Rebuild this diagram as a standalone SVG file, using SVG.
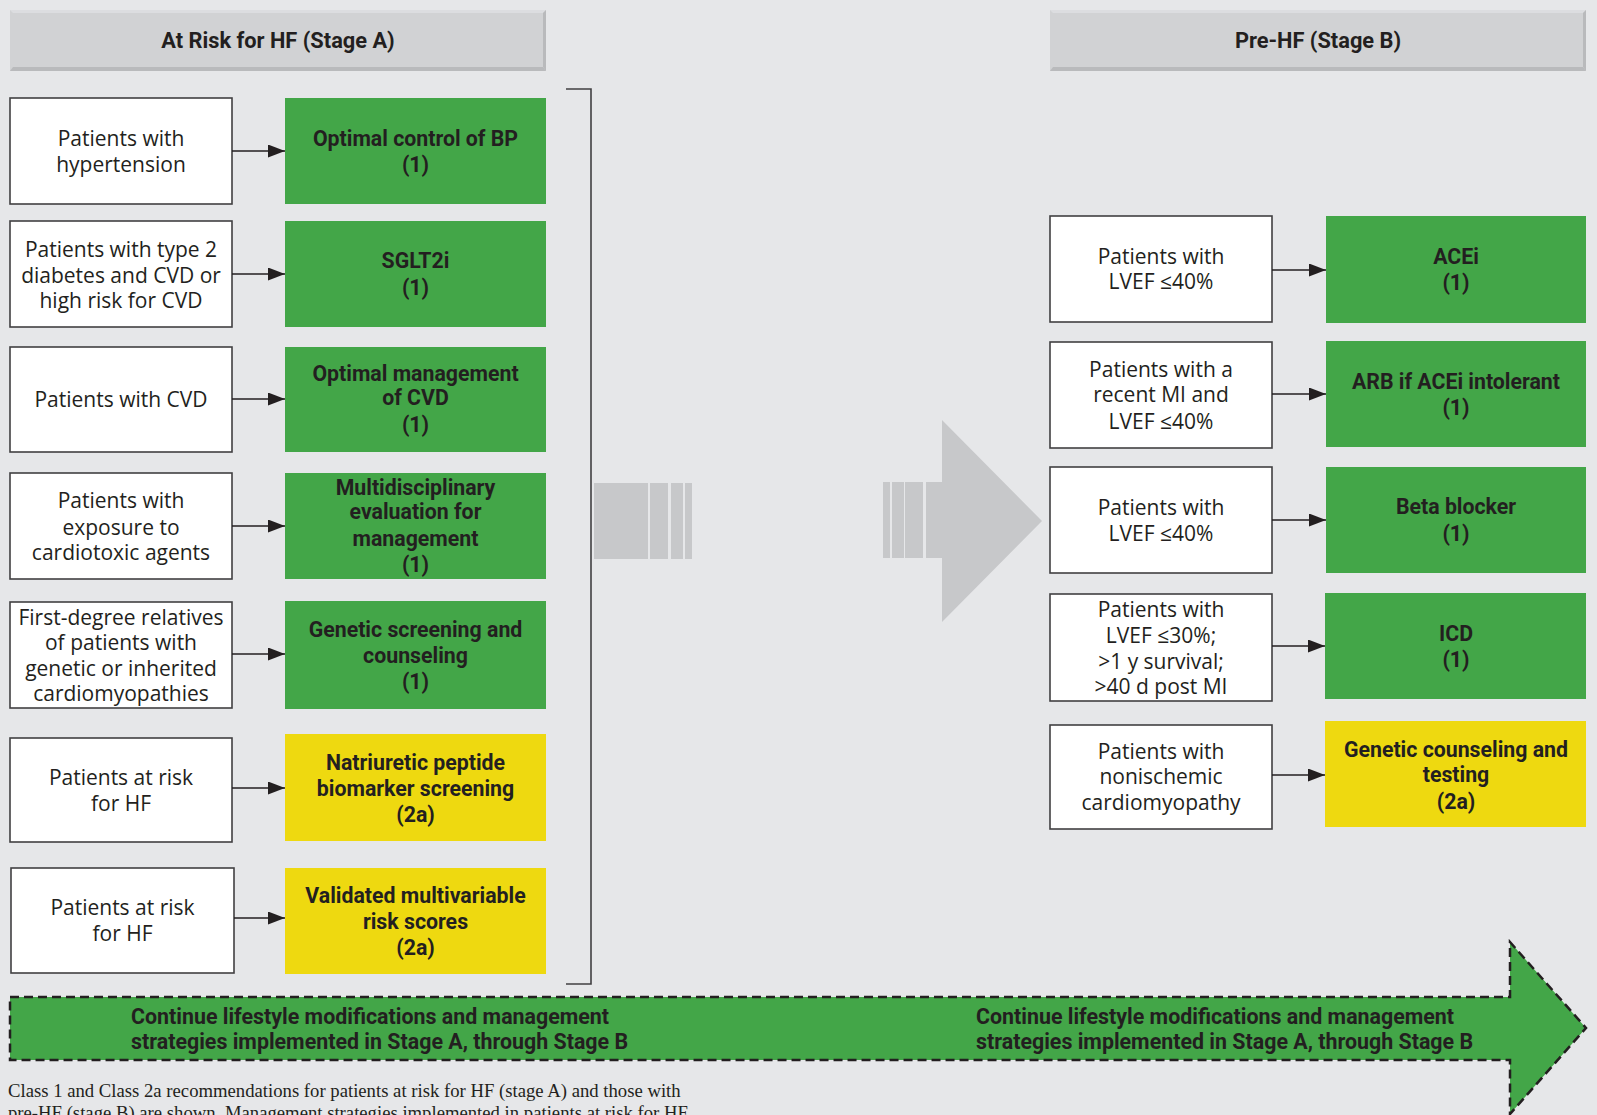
<svg xmlns="http://www.w3.org/2000/svg" width="1597" height="1115" viewBox="0 0 1597 1115">
<defs>
<style>
.bg{fill:#e6e7e9}
.wbox{fill:#ffffff;stroke:#414042;stroke-width:1.6}
.gbox{fill:#43a648}
.ybox{fill:#eed910}
.hdr{fill:#d1d2d4}
.hdrb{fill:#b9babc}
.hdrl{fill:#dcdde0}
.reg{font-family:"Open Sans","Liberation Sans",sans-serif;font-size:21px;fill:#231f20;text-anchor:middle}
.bold{font-family:Roboto,"Liberation Sans",sans-serif;font-weight:bold;font-size:21.3px;fill:#231f20;text-anchor:middle}
.htxt{font-size:21.8px}
.band{font-family:Roboto,"Liberation Sans",sans-serif;font-weight:bold;font-size:21.4px;fill:#231f20}
.cap{font-family:"Liberation Serif",serif;font-size:18.7px;fill:#231f20}
.conn{stroke:#231f20;stroke-width:1.6;fill:none;marker-end:url(#ah)}
.gray{fill:#c7c8ca}
</style>
<marker id="ah" markerUnits="userSpaceOnUse" markerWidth="18" markerHeight="13" refX="17" refY="6.5" orient="auto">
<path d="M0,0 L17,6.5 L0,13 Z" fill="#231f20"/>
</marker>
</defs>
<rect class="bg" x="0" y="0" width="1597" height="1115"/>

<g id="header-a">
<rect class="hdr" x="10" y="10" width="536" height="61"/>
<polygon class="hdrl" points="10,10 546,10 543,13 13,13"/>
<polygon class="hdrb" points="10,71 546,71 543,67 13,67"/>
<polygon class="hdrb" points="546,10 546,71 543,67 543,13"/>
<text class="bold htxt" x="278" y="48">At Risk for HF (Stage A)</text>
</g>
<g id="header-b">
<rect class="hdr" x="1050" y="10" width="536" height="61"/>
<polygon class="hdrl" points="1050,10 1586,10 1583,13 1053,13"/>
<polygon class="hdrb" points="1050,71 1586,71 1583,67 1053,67"/>
<polygon class="hdrb" points="1586,10 1586,71 1583,67 1583,13"/>
<text class="bold htxt" x="1318" y="48">Pre-HF (Stage B)</text>
</g>

<!-- Stage A left nodes -->
<g id="a1-patients"><rect class="wbox" x="10" y="98" width="222" height="106"/>
<text class="reg" x="121" y="146">Patients with</text><text class="reg" x="121" y="172">hypertension</text></g>
<g id="a1-action"><rect class="gbox" x="285" y="98" width="261" height="106"/>
<text class="bold" x="415.5" y="146">Optimal control of BP</text><text class="bold" x="415.5" y="172">(1)</text></g>

<g id="a2-patients"><rect class="wbox" x="10" y="221" width="222" height="106"/>
<text class="reg" x="121" y="257">Patients with type 2</text><text class="reg" x="121" y="283">diabetes and CVD or</text><text class="reg" x="121" y="308">high risk for CVD</text></g>
<g id="a2-action"><rect class="gbox" x="285" y="221" width="261" height="106"/>
<text class="bold" x="415.5" y="268">SGLT2i</text><text class="bold" x="415.5" y="295">(1)</text></g>

<g id="a3-patients"><rect class="wbox" x="10" y="347" width="222" height="105"/>
<text class="reg" x="121" y="407">Patients with CVD</text></g>
<g id="a3-action"><rect class="gbox" x="285" y="347" width="261" height="105"/>
<text class="bold" x="415.5" y="381">Optimal management</text><text class="bold" x="415.5" y="405">of CVD</text><text class="bold" x="415.5" y="432">(1)</text></g>

<g id="a4-patients"><rect class="wbox" x="10" y="473" width="222" height="106"/>
<text class="reg" x="121" y="508">Patients with</text><text class="reg" x="121" y="535">exposure to</text><text class="reg" x="121" y="560">cardiotoxic agents</text></g>
<g id="a4-action"><rect class="gbox" x="285" y="473" width="261" height="106"/>
<text class="bold" x="415.5" y="495">Multidisciplinary</text><text class="bold" x="415.5" y="519">evaluation for</text><text class="bold" x="415.5" y="546">management</text><text class="bold" x="415.5" y="572">(1)</text></g>

<g id="a5-patients"><rect class="wbox" x="10" y="602" width="222" height="106"/>
<text class="reg" x="121" y="625">First-degree relatives</text><text class="reg" x="121" y="650">of patients with</text><text class="reg" x="121" y="676">genetic or inherited</text><text class="reg" x="121" y="701">cardiomyopathies</text></g>
<g id="a5-action"><rect class="gbox" x="285" y="601" width="261" height="108"/>
<text class="bold" x="415.5" y="637">Genetic screening and</text><text class="bold" x="415.5" y="663">counseling</text><text class="bold" x="415.5" y="689">(1)</text></g>

<g id="a6-patients"><rect class="wbox" x="10" y="738" width="222" height="104"/>
<text class="reg" x="121" y="785">Patients at risk</text><text class="reg" x="121" y="811">for HF</text></g>
<g id="a6-action"><rect class="ybox" x="285" y="734" width="261" height="107"/>
<text class="bold" x="415.5" y="770">Natriuretic peptide</text><text class="bold" x="415.5" y="796">biomarker screening</text><text class="bold" x="415.5" y="822">(2a)</text></g>

<g id="a7-patients"><rect class="wbox" x="11" y="868" width="223" height="105"/>
<text class="reg" x="122.5" y="915">Patients at risk</text><text class="reg" x="122.5" y="941">for HF</text></g>
<g id="a7-action"><rect class="ybox" x="285" y="868" width="261" height="106"/>
<text class="bold" x="415.5" y="903">Validated multivariable</text><text class="bold" x="415.5" y="929">risk scores</text><text class="bold" x="415.5" y="955">(2a)</text></g>

<!-- Stage B right nodes -->
<g id="b1-patients"><rect class="wbox" x="1050" y="216" width="222" height="106"/>
<text class="reg" x="1161" y="264">Patients with</text><text class="reg" x="1161" y="289">LVEF ≤40%</text></g>
<g id="b1-action"><rect class="gbox" x="1326" y="216" width="260" height="107"/>
<text class="bold" x="1456" y="264">ACEi</text><text class="bold" x="1456" y="290">(1)</text></g>

<g id="b2-patients"><rect class="wbox" x="1050" y="342" width="222" height="106"/>
<text class="reg" x="1161" y="377">Patients with a</text><text class="reg" x="1161" y="402">recent MI and</text><text class="reg" x="1161" y="429">LVEF ≤40%</text></g>
<g id="b2-action"><rect class="gbox" x="1326" y="341" width="260" height="106"/>
<text class="bold" x="1456" y="389">ARB if ACEi intolerant</text><text class="bold" x="1456" y="415">(1)</text></g>

<g id="b3-patients"><rect class="wbox" x="1050" y="467" width="222" height="106"/>
<text class="reg" x="1161" y="515">Patients with</text><text class="reg" x="1161" y="541">LVEF ≤40%</text></g>
<g id="b3-action"><rect class="gbox" x="1326" y="467" width="260" height="106"/>
<text class="bold" x="1456" y="514">Beta blocker</text><text class="bold" x="1456" y="541">(1)</text></g>

<g id="b4-patients"><rect class="wbox" x="1050" y="594" width="222" height="107"/>
<text class="reg" x="1161" y="617">Patients with</text><text class="reg" x="1161" y="643">LVEF ≤30%;</text><text class="reg" x="1161" y="669">&gt;1 y survival;</text><text class="reg" x="1161" y="694">&gt;40 d post MI</text></g>
<g id="b4-action"><rect class="gbox" x="1325" y="593" width="261" height="106"/>
<text class="bold" x="1456" y="641">ICD</text><text class="bold" x="1456" y="667">(1)</text></g>

<g id="b5-patients"><rect class="wbox" x="1050" y="725" width="222" height="104"/>
<text class="reg" x="1161" y="759">Patients with</text><text class="reg" x="1161" y="784">nonischemic</text><text class="reg" x="1161" y="810">cardiomyopathy</text></g>
<g id="b5-action"><rect class="ybox" x="1325" y="721" width="261" height="106"/>
<text class="bold" x="1456" y="757">Genetic counseling and</text><text class="bold" x="1456" y="782">testing</text><text class="bold" x="1456" y="809">(2a)</text></g>

<!-- bracket and transition arrow -->
<g id="bracket">
<path d="M566,89 L591,89 L591,984 L566,984" fill="none" stroke="#414042" stroke-width="1.6"/>
</g>
<g id="transition-arrow">
<rect class="gray" x="594" y="483" width="54" height="76"/>
<rect class="gray" x="650" y="483" width="18" height="76"/>
<rect class="gray" x="671" y="483" width="12" height="76"/>
<rect class="gray" x="685" y="483" width="7" height="76"/>
<rect class="gray" x="883" y="482" width="7" height="76"/>
<rect class="gray" x="892" y="482" width="12" height="76"/>
<rect class="gray" x="905" y="482" width="18" height="76"/>
<polygon class="gray" points="926,482 942,482 942,420 1042,521 942,622 942,558 926,558"/>
</g>

<g id="connectors">
<line class="conn" x1="232" y1="151" x2="285" y2="151"/>
<line class="conn" x1="232" y1="274" x2="285" y2="274"/>
<line class="conn" x1="232" y1="399" x2="285" y2="399"/>
<line class="conn" x1="232" y1="526" x2="285" y2="526"/>
<line class="conn" x1="232" y1="654" x2="285" y2="654"/>
<line class="conn" x1="232" y1="788" x2="285" y2="788"/>
<line class="conn" x1="234" y1="918" x2="285" y2="918"/>
<line class="conn" x1="1272" y1="270" x2="1326" y2="270"/>
<line class="conn" x1="1272" y1="394" x2="1326" y2="394"/>
<line class="conn" x1="1272" y1="520" x2="1326" y2="520"/>
<line class="conn" x1="1272" y1="646" x2="1325" y2="646"/>
<line class="conn" x1="1272" y1="775" x2="1325" y2="775"/>
</g>

<g id="continue-band">
<polygon points="10,997 1510,997 1510,942 1586,1028 1510,1114 1510,1060 10,1060" fill="#43a648" stroke="#231f20" stroke-width="2.5" stroke-dasharray="9 5"/>
<text class="band" x="131" y="1024">Continue lifestyle modifications and management</text>
<text class="band" x="131" y="1049">strategies implemented in Stage A, through Stage B</text>
<text class="band" x="976" y="1024">Continue lifestyle modifications and management</text>
<text class="band" x="976" y="1049">strategies implemented in Stage A, through Stage B</text>
</g>

<g id="caption">
<text class="cap" x="8" y="1097">Class 1 and Class 2a recommendations for patients at risk for HF (stage A) and those with</text>
<text class="cap" x="8" y="1119">pre-HF (stage B) are shown. Management strategies implemented in patients at risk for HF</text>
</g>
</svg>
